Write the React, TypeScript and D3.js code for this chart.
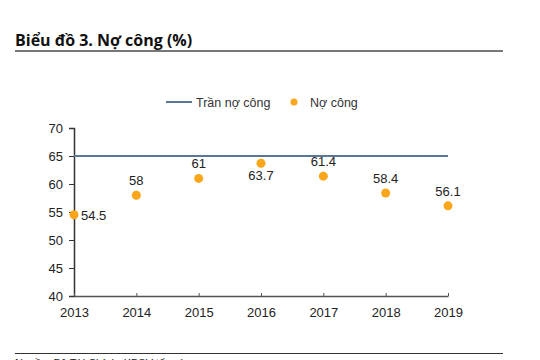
import { useEffect, useRef } from "react";
import * as d3 from "d3";

const years = ["2013", "2014", "2015", "2016", "2017", "2018", "2019"];
const debt = [54.5, 58, 61, 63.7, 61.4, 58.4, 56.1];
const ceiling = [65, 65, 65, 65, 65, 65, 65];
// where the value label sits relative to its dot
const labelPos = ["right", "top", "top", "bottom", "top", "top", "top"];
const yTicks = [40, 45, 50, 55, 60, 65, 70];

const W = 540;
const H = 360;
const MARGIN = { top: 128, right: 92, bottom: 64, left: 74 };
const FONT = "Liberation Sans, Arial, sans-serif";

export default function App() {
  const svgRef = useRef<SVGSVGElement>(null);

  useEffect(() => {
    if (!svgRef.current) return;
    const svg = d3.select(svgRef.current);
    svg.selectAll("*").remove();

    const innerW = W - MARGIN.left - MARGIN.right;
    const innerH = H - MARGIN.top - MARGIN.bottom;

    // Title + rules
    svg.append("text")
      .attr("x", 15)
      .attr("y", 46)
      .attr("font-family", "Open Sans, Noto Sans, sans-serif")
      .attr("font-weight", 700)
      .attr("font-size", 16)
      .attr("fill", "#111")
      .text("Biểu đồ 3. Nợ công (%)");
    svg.append("line")
      .attr("x1", 15).attr("x2", 503).attr("y1", 51).attr("y2", 51)
      .attr("stroke", "#777").attr("stroke-width", 2);
    svg.append("line")
      .attr("x1", 15).attr("x2", 503).attr("y1", 353.5).attr("y2", 353.5)
      .attr("stroke", "#333").attr("stroke-width", 1);
    // source line, cut by the bottom edge as in the original
    svg.append("text")
      .attr("x", 15)
      .attr("y", 367)
      .attr("font-family", FONT)
      .attr("font-size", 11)
      .attr("fill", "#222")
      .text("Nguồn: Bộ Tài Chính, KBSV tổng hợp");

    // Legend
    const lg = svg.append("g").attr("font-family", FONT).attr("font-size", 12.5).attr("fill", "#333");
    lg.append("line")
      .attr("x1", 166).attr("x2", 192).attr("y1", 102).attr("y2", 102)
      .attr("stroke", "#5a7793").attr("stroke-width", 2);
    lg.append("text").attr("x", 196).attr("y", 106.5).text("Trần nợ công");
    lg.append("circle").attr("cx", 294).attr("cy", 102).attr("r", 3.5).attr("fill", "#f9a61a");
    lg.append("text").attr("x", 310).attr("y", 106.5).text("Nợ công");

    const g = svg.append("g").attr("transform", `translate(${MARGIN.left},${MARGIN.top})`);

    const x = d3.scalePoint<string>().domain(years).range([0, innerW]).padding(0);
    const y = d3.scaleLinear().domain([40, 70]).range([innerH, 0]);

    // Y axis
    const yAxis = g.append("g")
      .call(d3.axisLeft(y).tickValues(yTicks).tickSize(5).tickPadding(6).tickFormat(d3.format("d")));
    yAxis.select(".domain").attr("stroke", "#333").attr("stroke-width", 1.5);
    yAxis.selectAll(".tick line").attr("stroke", "#333");
    yAxis.selectAll("text")
      .attr("fill", "#222")
      .attr("font-family", FONT)
      .attr("font-size", 13);

    // X axis (ticks point upwards)
    const xAxis = g.append("g")
      .attr("transform", `translate(0,${innerH})`)
      .call(d3.axisBottom(x).tickSizeInner(-3).tickSizeOuter(0).tickPadding(12));
    xAxis.select(".domain").attr("stroke", "#555").attr("stroke-width", 1.5);
    xAxis.selectAll(".tick line").attr("stroke", "#555");
    xAxis.selectAll("text")
      .attr("fill", "#222")
      .attr("font-family", FONT)
      .attr("font-size", 13);

    // Ceiling line
    const line = d3.line<number>()
      .x((_, i) => x(years[i]) as number)
      .y((d) => y(d));
    g.append("path")
      .datum(ceiling)
      .attr("d", line)
      .attr("fill", "none")
      .attr("stroke", "#5a7793")
      .attr("stroke-width", 2);

    // Debt dots
    g.selectAll("circle.dot")
      .data(debt)
      .join("circle")
      .attr("class", "dot")
      .attr("cx", (_, i) => x(years[i]) as number)
      .attr("cy", (d) => y(d))
      .attr("r", 4.5)
      .attr("fill", "#f9a61a");

    // Value labels
    g.selectAll("text.val")
      .data(debt)
      .join("text")
      .attr("class", "val")
      .attr("font-family", FONT)
      .attr("font-size", 13)
      .attr("fill", "#222")
      .attr("text-anchor", (_, i) => (labelPos[i] === "right" ? "start" : "middle"))
      .attr("x", (_, i) => (x(years[i]) as number) + (labelPos[i] === "right" ? 7 : 0))
      .attr("y", (d, i) => {
        const cy = y(d);
        if (labelPos[i] === "right") return cy + 5;
        if (labelPos[i] === "bottom") return cy + 17;
        return cy - 10;
      })
      .text((d) => String(d));
  }, []);

  return (
    <svg
      ref={svgRef}
      width={W}
      height={H}
      style={{ position: "absolute", left: 0, top: 0, background: "#fff" }}
    />
  );
}
